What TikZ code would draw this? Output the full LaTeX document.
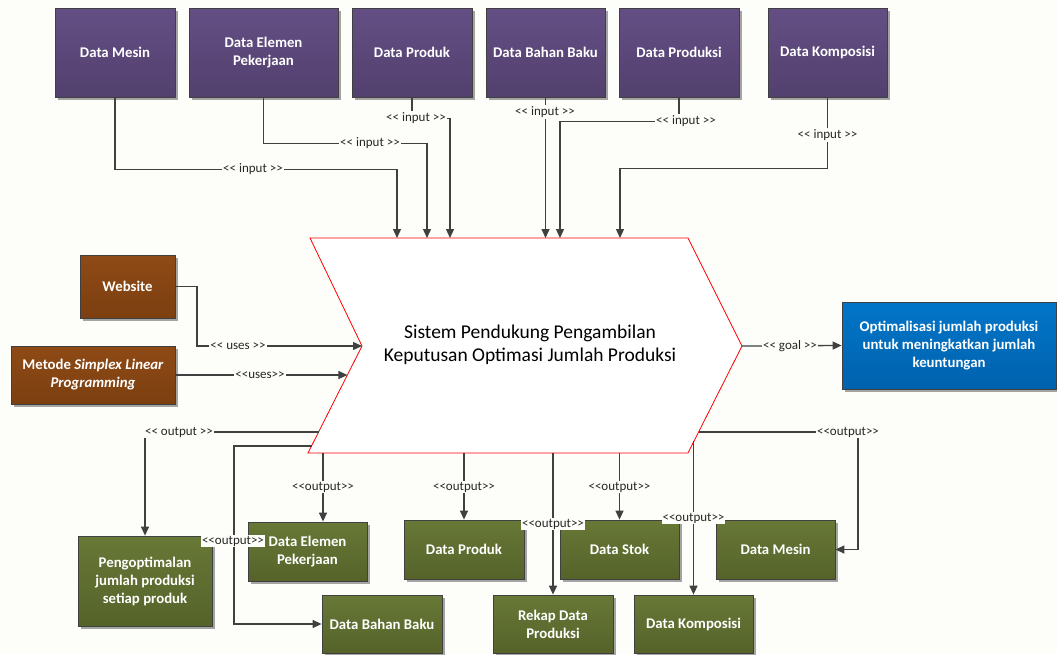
\documentclass[tikz,border=0pt]{standalone}
\usepackage{fontspec}
\setmainfont{Carlito}[Ligatures=TeXOff]
\usetikzlibrary{arrows.meta,shadows}

\definecolor{bg}{HTML}{FDFDF9}
\definecolor{edgegray}{HTML}{404040}
\definecolor{purpleTop}{HTML}{644F84}
\definecolor{purpleBot}{HTML}{52406E}
\definecolor{brownTop}{HTML}{8E4A16}
\definecolor{brownBot}{HTML}{7C3F10}
\definecolor{greenTop}{HTML}{687836}
\definecolor{greenBot}{HTML}{55632A}
\definecolor{blueTop}{HTML}{0275C8}
\definecolor{blueBot}{HTML}{0062AE}

\tikzset{
  box/.style={draw=edgegray, line width=0.8pt, text=white, align=center,
    inner sep=2pt, font=\bfseries\fontsize{14.8}{18}\selectfont,
    drop shadow={shadow xshift=3pt, shadow yshift=-3pt, fill=black, opacity=0.35}},
  inbox/.style={box, top color=purpleTop, bottom color=purpleBot,
    minimum height=89pt},
  usebox/.style={box, top color=brownTop, bottom color=brownBot},
  outbox/.style={box, top color=greenTop, bottom color=greenBot,
    minimum width=119pt, minimum height=59pt},
  goalbox/.style={box, top color=blueTop, bottom color=blueBot},
  link/.style={draw=edgegray, line width=1.3pt},
  arr/.style={link, -{Triangle[length=9pt,width=8pt]}},
  lbl/.style={fill=bg, inner sep=1pt, text=black!85,
    font=\fontsize{13}{15}\selectfont},
}

\begin{document}
\begin{tikzpicture}[x=1pt,y=-1pt]
\fill[bg] (0,0) rectangle (1057,654);
\useasboundingbox (0,0) rectangle (1057,654);

% input data sources
\node[inbox, minimum width=120pt] (pMesin)     at (115,52.5)   {Data Mesin};
\node[inbox, minimum width=149pt] (pElemen)    at (263.5,52.5) {Data Elemen\\Pekerjaan};
\node[inbox, minimum width=120pt] (pProduk)    at (412,52.5)   {Data Produk};
\node[inbox, minimum width=119pt] (pBahan)     at (545.5,52.5) {Data Bahan Baku};
\node[inbox, minimum width=120pt] (pProduksi)  at (679,52.5)   {Data Produksi};
\node[inbox, minimum width=119pt] (pKomposisi) at (827.5,52.5) {Data Komposisi};

% resources used
\node[usebox, minimum width=95pt, minimum height=63pt]  (website) at (127.5,286.5) {Website};
\node[usebox, minimum width=164pt, minimum height=58pt] (metode)  at (93,375)
  {Metode \textit{Simplex Linear}\\\textit{Programming}};

% goal
\node[goalbox, minimum width=214pt, minimum height=87pt] (goal) at (949,345.5)
  {Optimalisasi jumlah produksi\\untuk meningkatkan jumlah\\keuntungan};

% outputs
\node[outbox, minimum width=134pt, minimum height=90pt] (gOpt) at (145,581)
  {Pengoptimalan\\jumlah produksi\\setiap produk};
\node[outbox] (gElemen)    at (307.5,551.5) {Data Elemen\\Pekerjaan};
\node[outbox, minimum width=120pt, minimum height=58pt] (gBahan) at (382,624) {Data Bahan Baku};
\node[outbox, minimum width=120pt] (gProduk) at (464,549.5) {Data Produk};
\node[outbox, minimum width=120pt, minimum height=58pt] (gRekap) at (553,624) {Rekap Data\\Produksi};
\node[outbox] (gStok)      at (619.5,549.5) {Data Stok};
\node[outbox, minimum height=58pt] (gKomposisi) at (693.5,624) {Data Komposisi};
\node[outbox] (gMesin)     at (775.5,549.5) {Data Mesin};

% central process (chevron)
\coordinate (s1) at (310,238);
\coordinate (s2) at (688,238);
\coordinate (s3) at (742,346);
\coordinate (s4) at (688,453);
\coordinate (s5) at (308,453);
\coordinate (s6) at (362,346);
\draw[red, line width=0.8pt, fill=white] (s1) -- (s2) -- (s3) -- (s4) -- (s5) -- (s6) -- cycle;
\node[align=center, font=\fontsize{19.5}{23}\selectfont] (sys) at (530,345)
  {Sistem Pendukung Pengambilan\\Keputusan Optimasi Jumlah Produksi};

% attachment points on the chevron
\coordinate (iMesin)     at (397,238);
\coordinate (iElemen)    at (427,238);
\coordinate (iProduk)    at (450,238);
\coordinate (iBahan)     at (545.5,238);
\coordinate (iProduksi)  at (560,238);
\coordinate (iKomposisi) at (620,238);
\coordinate (uWebsite)   at (362,346);
\coordinate (uMetode)    at (347.4,375);
\coordinate (oGoal)      at (742,346);
\coordinate (oOpt)       at (318.6,432);
\coordinate (oBahan)     at (311.5,446);
\coordinate (oElemen)    at (323,453);
\coordinate (oProduk)    at (464,453);
\coordinate (oRekap)     at (553,453);
\coordinate (oStok)      at (619.5,453);
\coordinate (oKomposisi) at (693.5,441);
\coordinate (oMesin)     at (698.6,432);

% inputs
\draw[arr] (pMesin.south) -- ++(0,72) -| (iMesin);
\draw[arr] (pElemen.south) -- ++(0,46) -| (iElemen);
\draw[arr] (pProduk.south) -- ++(0,21) -| (iProduk);
\draw[arr] (pBahan.south) -- (iBahan);
\draw[arr] (pProduksi.south) -- ++(0,24) -| (iProduksi);
\draw[arr] (pKomposisi.south) -- ++(0,71) -| (iKomposisi);

% uses and goal
\draw[arr] (website.east) -| (197,346) -- (uWebsite);
\draw[arr] (metode.east) -- (uMetode);
\draw[arr] (oGoal) -- (goal.west);

% outputs
\draw[arr] (oOpt) -| (gOpt.north);
\draw[arr] (oBahan) -| (234,624) -- (gBahan.west);
\draw[arr] (oElemen) -- (oElemen |- gElemen.north);
\draw[arr] (oProduk) -- (gProduk.north);
\draw[arr] (oRekap) -- (gRekap.north);
\draw[arr] (oStok) -- (gStok.north);
\draw[arr] (oKomposisi) -- (gKomposisi.north);
\draw[arr] (oMesin) -| (858,549.5) -- (gMesin.east);

% connector labels
\node[lbl] (lMesin)     at (253,169) {<< input >>};
\node[lbl] (lElemen)    at (370,143) {<< input >>};
\node[lbl] (lProduk)    at (416,118) {<< input >>};
\node[lbl] (lBahan)     at (545,112) {<< input >>};
\node[lbl] (lProduksi)  at (686,121) {<< input >>};
\node[lbl] (lKomposisi) at (827.5,135) {<< input >>};
\node[lbl] (lWebsite)   at (238,346) {<< uses >>};
\node[lbl] (lMetode)    at (260,375) {<<uses>>};
\node[lbl] (lGoal)      at (790,346) {<< goal >>};
\node[lbl] (lOpt)       at (179,432) {<< output >>};
\node[lbl] (lBahanOut)  at (233,541) {<<output>>};
\node[lbl] (lElemenOut) at (323,487) {<<output>>};
\node[lbl] (lProdukOut) at (464,487) {<<output>>};
\node[lbl] (lRekap)     at (553,524) {<<output>>};
\node[lbl] (lStok)      at (619.5,487) {<<output>>};
\node[lbl] (lKompOut)   at (693.5,518) {<<output>>};
\node[lbl] (lMesinOut)  at (848,432) {<<output>>};
\end{tikzpicture}
\end{document}
